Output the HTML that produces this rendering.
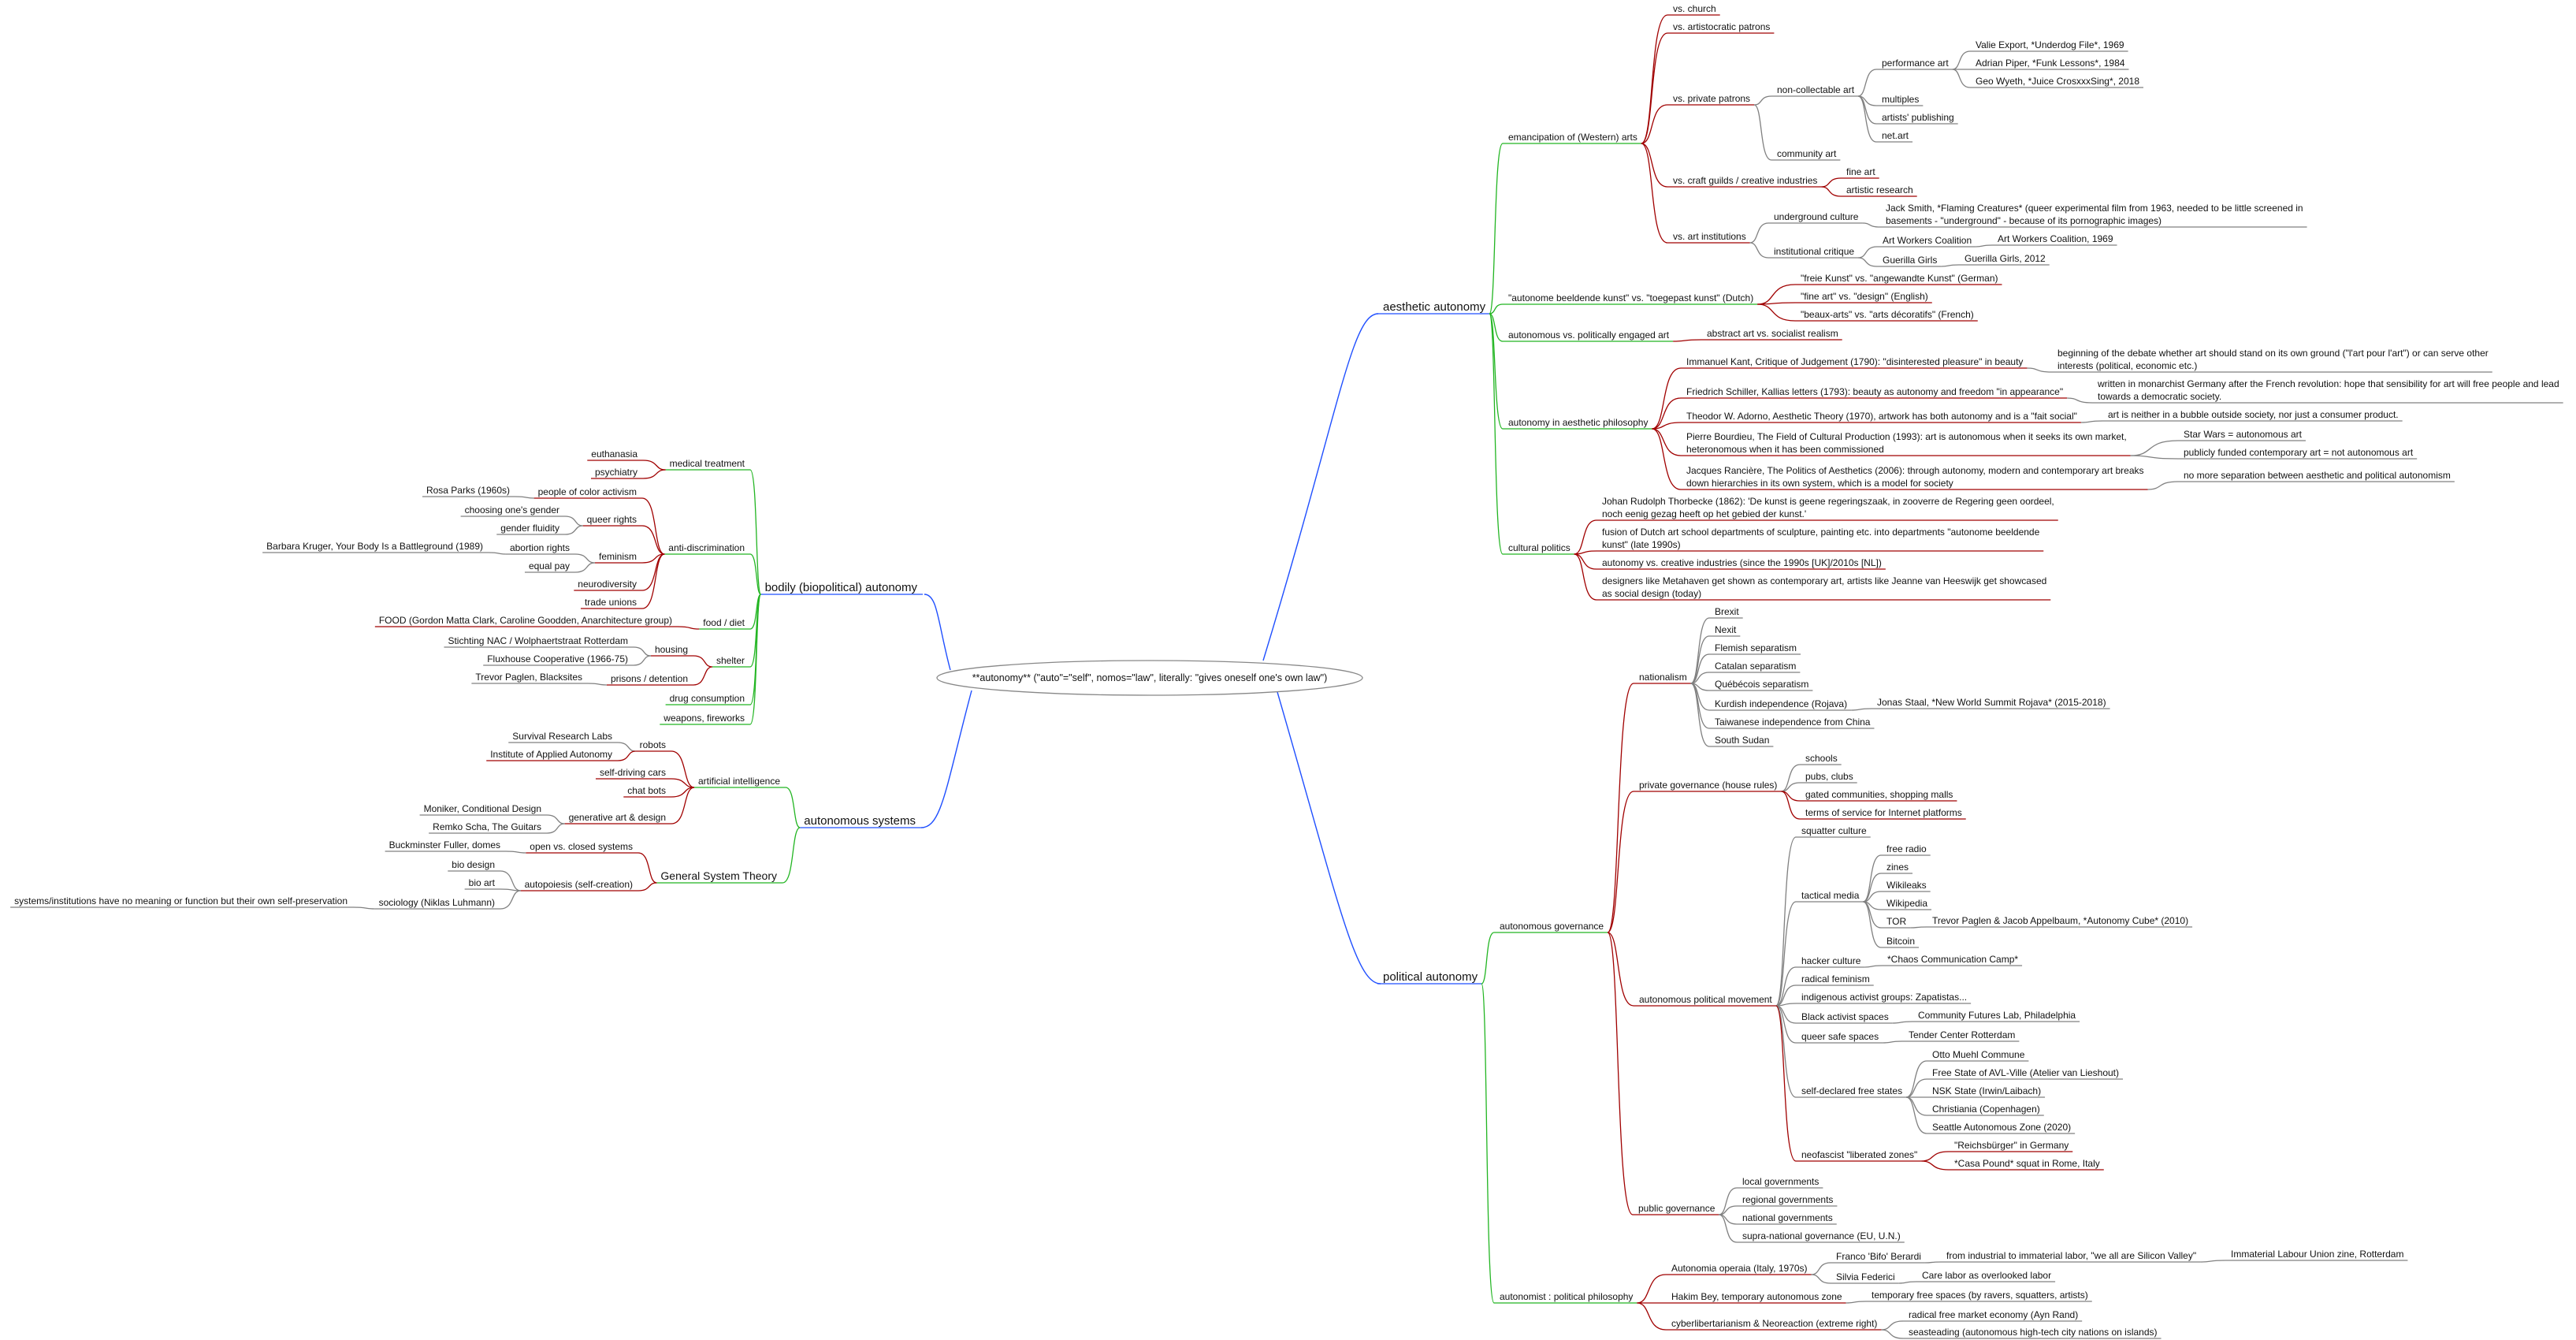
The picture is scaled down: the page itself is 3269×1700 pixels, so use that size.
<!DOCTYPE html>
<html><head><meta charset="utf-8"><style>
html,body{margin:0;padding:0;background:#fff;width:3269px;height:1700px;overflow:hidden}
svg{display:block}
text{font-family:"Liberation Sans",Arial,sans-serif;font-size:12px;fill:#111}
</style></head><body>
<svg id="s" width="3269" height="1700" xmlns="http://www.w3.org/2000/svg">
<g fill="none" stroke="#1f4fff" stroke-width="1.4">
<path d="M1603,838 C1700,520 1715,398 1749,398"/>
<path d="M1621,878 C1700,1150 1720,1248 1752,1248"/>
<path d="M1206,850 C1190,790 1190,754 1173,754"/>
<path d="M1233,876 C1200,1000 1195,1050 1169,1050"/>
</g>
<ellipse cx="1459" cy="860" rx="270" ry="22" fill="#fff" stroke="#888" stroke-width="1.3"/>
<text x="1459" y="864" text-anchor="middle" style="font-size:12.5px">**autonomy**  ("auto"="self",  nomos="law", literally: "gives oneself one's own law")</text>
<g id="g"></g>
</svg>
<script>
var R='#a00000',G='#22b522',B='#1f4fff',K='#808080';
// [id,parent,text,x,y,color,side,size]
var N=[
['AA',null,'aesthetic autonomy',1755,398,B,'R',15],
['a1','AA','emancipation of (Western) arts',1914,182,G,'R'],
['a1a','a1','vs. church',2123,19,R,'R'],
['a1b','a1','vs. artistocratic patrons',2123,42,R,'R'],
['a1c','a1','vs. private patrons',2123,133,R,'R'],
['a1c1','a1c','non-collectable art',2255,122,K,'R'],
['pa','a1c1','performance art',2388,88,K,'R'],
['v1','pa','Valie Export, *Underdog File*, 1969',2507,65,K,'R'],
['v2','pa','Adrian Piper, *Funk Lessons*, 1984',2507,88,K,'R'],
['v3','pa','Geo Wyeth, *Juice CrosxxxSing*, 2018',2507,111,K,'R'],
['mu','a1c1','multiples',2388,134,K,'R'],
['ap','a1c1','artists\' publishing',2388,157,K,'R'],
['na','a1c1','net.art',2388,180,K,'R'],
['ca','a1c','community art',2255,203,K,'R'],
['a1d','a1','vs. craft guilds / creative industries',2123,237,R,'R'],
['fa','a1d','fine art',2343,226,R,'R'],
['ar','a1d','artistic research',2343,249,R,'R'],
['a1e','a1','vs. art institutions',2123,308,R,'R'],
['uc','a1e','underground culture',2251,283,K,'R'],
['js','uc','Jack Smith, *Flaming Creatures* (queer experimental film from 1963, needed to be little screened in\nbasements - "underground" - because of its pornographic images)',2393,288,K,'R'],
['ic','a1e','institutional critique',2251,327,K,'R'],
['awc','ic','Art Workers Coalition',2389,313,K,'R'],
['awc2','awc','Art Workers Coalition, 1969',2535,311,K,'R'],
['gg','ic','Guerilla Girls',2389,338,K,'R'],
['gg2','gg','Guerilla Girls, 2012',2493,336,K,'R'],
['a2','AA','"autonome beeldende kunst" vs. "toegepast kunst" (Dutch)',1914,386,G,'R'],
['f1','a2','"freie Kunst" vs. "angewandte Kunst" (German)',2285,361,R,'R'],
['f2','a2','"fine art" vs. "design" (English)',2285,384,R,'R'],
['f3','a2','"beaux-arts" vs. "arts décoratifs" (French)',2285,407,R,'R'],
['a3','AA','autonomous vs. politically engaged art',1914,433,G,'R'],
['ab','a3','abstract art vs. socialist realism',2166,431,R,'R'],
['a4','AA','autonomy in aesthetic philosophy',1914,544,G,'R'],
['ka','a4','Immanuel Kant, Critique of Judgement (1790): "disinterested pleasure" in beauty',2140,467,R,'R'],
['ka2','ka','beginning of the debate whether art should stand on its own ground ("l\'art pour l\'art") or can serve other\ninterests (political, economic etc.)',2611,472,K,'R'],
['sc','a4','Friedrich Schiller, Kallias letters (1793): beauty as autonomy and freedom "in appearance"',2140,505,R,'R'],
['sc2','sc','written in monarchist Germany after the French revolution: hope that sensibility for art will free people and lead\ntowards a democratic society.',2662,511,K,'R'],
['ad','a4','Theodor W. Adorno, Aesthetic Theory (1970), artwork has both autonomy and is a "fait social"',2140,536,R,'R'],
['ad2','ad','art is neither in a bubble outside society, nor just a consumer product.',2675,534,K,'R'],
['bo','a4','Pierre Bourdieu, The Field of Cultural Production (1993): art is autonomous when it seeks its own market,\nheteronomous when it has been commissioned',2140,578,R,'R'],
['bo1','bo','Star Wars = autonomous art',2771,559,K,'R'],
['bo2','bo','publicly funded contemporary art = not autonomous art',2771,582,K,'R'],
['ra','a4','Jacques Rancière, The Politics of Aesthetics (2006): through autonomy, modern and contemporary art breaks\ndown hierarchies in its own system,  which is a model for society',2140,621,R,'R'],
['ra2','ra','no more separation between aesthetic and political autonomism',2771,611,K,'R'],
['a5','AA','cultural politics',1914,703,G,'R'],
['c1','a5','Johan Rudolph Thorbecke (1862): \'De kunst is geene regeringszaak, in zooverre de Regering geen oordeel,\nnoch eenig gezag heeft op het gebied der kunst.\'',2033,660,R,'R'],
['c2','a5','fusion of Dutch art school departments of sculpture, painting etc. into departments "autonome beeldende\nkunst" (late 1990s)',2033,699,R,'R'],
['c3','a5','autonomy vs. creative industries (since the 1990s [UK]/2010s [NL])',2033,722,R,'R'],
['c4','a5','designers like Metahaven get shown as contemporary art, artists like Jeanne van Heeswijk get showcased\nas social design (today)',2033,761,R,'R'],

['PA',null,'political autonomy',1755,1248,B,'R',15],
['g1','PA','autonomous  governance',1903,1183,G,'R'],
['nat','g1','nationalism',2080,867,R,'R'],
['n1','nat','Brexit',2176,784,K,'R'],
['n2','nat','Nexit',2176,807,K,'R'],
['n3','nat','Flemish separatism',2176,830,K,'R'],
['n4','nat','Catalan separatism',2176,853,K,'R'],
['n5','nat','Québécois separatism',2176,876,K,'R'],
['n6','nat','Kurdish independence (Rojava)',2176,901,K,'R'],
['n6a','n6','Jonas Staal, *New World Summit Rojava* (2015-2018)',2382,899,K,'R'],
['n7','nat','Taiwanese independence from China',2176,924,K,'R'],
['n8','nat','South Sudan',2176,947,K,'R'],
['pg','g1','private governance (house rules)',2080,1004,R,'R'],
['p1','pg','schools',2291,970,K,'R'],
['p2','pg','pubs, clubs',2291,993,K,'R'],
['p3','pg','gated communities, shopping malls',2291,1016,R,'R'],
['p4','pg','terms of service for Internet platforms',2291,1039,R,'R'],
['apm','g1','autonomous political movement',2080,1276,R,'R'],
['m1','apm','squatter culture',2286,1062,K,'R'],
['tm','apm','tactical media',2286,1144,K,'R'],
['t1','tm','free radio',2394,1085,K,'R'],
['t2','tm','zines',2394,1108,K,'R'],
['t3','tm','Wikileaks',2394,1131,K,'R'],
['t4','tm','Wikipedia',2394,1154,K,'R'],
['t5','tm','TOR',2394,1177,K,'R'],
['t5a','t5','Trevor Paglen & Jacob Appelbaum, *Autonomy Cube* (2010)',2452,1176,K,'R'],
['t6','tm','Bitcoin',2394,1202,K,'R'],
['hc','apm','hacker culture',2286,1227,K,'R'],
['hc1','hc','*Chaos Communication Camp*',2395,1225,K,'R'],
['rf','apm','radical feminism',2286,1250,K,'R'],
['ig','apm','indigenous activist groups: Zapatistas...',2286,1273,K,'R'],
['bl','apm','Black activist spaces',2286,1298,K,'R'],
['bl1','bl','Community Futures Lab, Philadelphia',2434,1296,K,'R'],
['qs','apm','queer safe spaces',2286,1323,K,'R'],
['qs1','qs','Tender Center Rotterdam',2422,1321,K,'R'],
['fs','apm','self-declared free states',2286,1392,K,'R'],
['fs1','fs','Otto Muehl Commune',2452,1346,K,'R'],
['fs2','fs','Free State of AVL-Ville (Atelier van Lieshout)',2452,1369,K,'R'],
['fs3','fs','NSK State (Irwin/Laibach)',2452,1392,K,'R'],
['fs4','fs','Christiania (Copenhagen)',2452,1415,K,'R'],
['fs5','fs','Seattle Autonomous Zone (2020)',2452,1438,K,'R'],
['nf','apm','neofascist "liberated zones"',2286,1473,R,'R'],
['nf1','nf','"Reichsbürger" in Germany',2480,1461,R,'R'],
['nf2','nf','*Casa Pound* squat in Rome, Italy',2480,1484,R,'R'],
['pub','g1','public governance',2079,1541,R,'R'],
['u1','pub','local governments',2211,1507,K,'R'],
['u2','pub','regional governments',2211,1530,K,'R'],
['u3','pub','national governments',2211,1553,K,'R'],
['u4','pub','supra-national governance (EU, U.N.)',2211,1576,K,'R'],
['g2','PA','autonomist : political philosophy',1903,1653,G,'R'],
['ao','g2','Autonomia operaia (Italy, 1970s)',2121,1617,R,'R'],
['fb','ao','Franco \'Bifo\' Berardi',2330,1602,K,'R'],
['fb1','fb','from industrial to immaterial labor, "we all are Silicon Valley"',2470,1601,K,'R'],
['fb2','fb1','Immaterial Labour Union zine, Rotterdam',2831,1599,K,'R'],
['sf','ao','Silvia Federici',2330,1628,K,'R'],
['sf1','sf','Care labor as overlooked labor',2439,1626,K,'R'],
['hb','g2','Hakim Bey, temporary autonomous zone',2121,1653,R,'R'],
['hb1','hb','temporary free spaces (by ravers, squatters, artists)',2375,1651,K,'R'],
['cy','g2','cyberlibertarianism & Neoreaction (extreme right)',2121,1687,R,'R'],
['cy1','cy','radical free market economy (Ayn Rand)',2422,1676,K,'R'],
['cy2','cy','seasteading (autonomous high-tech city nations on islands)',2422,1698,K,'R'],

['BA',null,'bodily (biopolitical) autonomy',1164,754,B,'L',15],
['mt','BA','medical treatment',945,596,G,'L'],
['e1','mt','euthanasia',809,584,R,'L'],
['e2','mt','psychiatry',809,607,R,'L'],
['adc','BA','anti-discrimination',945,703,G,'L'],
['pc','adc','people of color activism',808,632,R,'L'],
['rp','pc','Rosa Parks (1960s)',647,630,K,'L'],
['qr','adc','queer rights',808,667,R,'L'],
['qr1','qr','choosing one\'s gender',710,655,K,'L'],
['qr2','qr','gender fluidity',710,678,K,'L'],
['fe','adc','feminism',808,714,R,'L'],
['fe1','fe','abortion rights',723,703,K,'L'],
['bk','fe1','Barbara Kruger, Your Body Is a Battleground (1989)',613,701,K,'L'],
['fe2','fe','equal pay',723,726,K,'L'],
['nd','adc','neurodiversity',808,749,R,'L'],
['tu','adc','trade unions',808,772,R,'L'],
['fd','BA','food / diet',945,798,G,'L'],
['fo','fd','FOOD (Gordon Matta Clark, Caroline Goodden, Anarchitecture group)',853,795,R,'L'],
['sh','BA','shelter',945,846,G,'L'],
['ho','sh','housing',873,832,R,'L'],
['ho1','ho','Stichting NAC / Wolphaertstraat Rotterdam',797,821,K,'L'],
['ho2','ho','Fluxhouse Cooperative (1966-75)',797,844,K,'L'],
['pr','sh','prisons / detention',873,869,R,'L'],
['pr1','pr','Trevor Paglen, Blacksites',739,867,K,'L'],
['dc','BA','drug consumption',945,894,G,'L'],
['wf','BA','weapons, fireworks',945,919,G,'L'],

['AS',null,'autonomous systems',1162,1050,B,'L',15],
['ai','AS','artificial intelligence',990,999,G,'L'],
['ro','ai','robots',845,953,R,'L'],
['ro1','ro','Survival Research Labs',777,942,K,'L'],
['ro2','ro','Institute of Applied Autonomy',777,965,R,'L'],
['sd','ai','self-driving cars',845,988,R,'L'],
['cb','ai','chat bots',845,1011,R,'L'],
['ga','ai','generative art & design',845,1045,R,'L'],
['ga1','ga','Moniker, Conditional Design',687,1034,K,'L'],
['ga2','ga','Remko Scha, The Guitars',687,1057,K,'L'],
['gst','AS','General System Theory',986,1120,G,'L',14],
['oc','gst','open vs. closed systems',803,1082,R,'L'],
['bf','oc','Buckminster Fuller, domes',635,1080,K,'L'],
['au','gst','autopoiesis (self-creation)',803,1130,R,'L'],
['bd','au','bio design',628,1105,K,'L'],
['ba','au','bio art',628,1128,K,'L'],
['so','au','sociology (Niklas Luhmann)',628,1153,K,'L'],
['so1','so','systems/institutions have no meaning or function but their own self-preservation',441,1151,K,'L']
];
var NS='http://www.w3.org/2000/svg',g=document.getElementById('g'),M={};
var lines=document.createElementNS(NS,'g');lines.setAttribute('fill','none');lines.setAttribute('stroke-width','1.3');
g.appendChild(lines);
var texts=document.createElementNS(NS,'g');g.appendChild(texts);
N.forEach(function(n){
  var id=n[0],t=n[2],x=n[3],y=n[4],c=n[5],side=n[6],sz=n[7]||12;
  var ls=t.split('\n'),w=0,lh=16;
  ls.forEach(function(l,i){
    var e=document.createElementNS(NS,'text');
    e.setAttribute('x',x);e.setAttribute('y',y-4-(ls.length-1-i)*lh);
    if(side=='L')e.setAttribute('text-anchor','end');
    e.style.fontSize=sz+'px';
    e.textContent=l;texts.appendChild(e);
    w=Math.max(w,e.getComputedTextLength());
  });
  var x0,x1;
  if(side=='R'){x0=x-7;x1=x+w+5;}else{x0=x-w-5;x1=x+7;}
  M[id]={x0:x0,x1:x1,y:y};
  var p=document.createElementNS(NS,'path');
  p.setAttribute('d','M'+x0+','+y+' L'+x1+','+y);p.setAttribute('stroke',c);
  lines.appendChild(p);
  if(n[1]){
    var P=M[n[1]],ax,bx;
    if(side=='R'){ax=P.x1;bx=x0;}else{ax=P.x0;bx=x1;}
    var ay=P.y,by=y,d=bx-ax;
    var q=document.createElementNS(NS,'path');
    q.setAttribute('d','M'+ax+','+ay+' C'+(ax+d*0.5)+','+ay+' '+(ax+d*0.3)+','+by+' '+bx+','+by);
    q.setAttribute('stroke',c);lines.appendChild(q);
  }
});
</script>
</body></html>
